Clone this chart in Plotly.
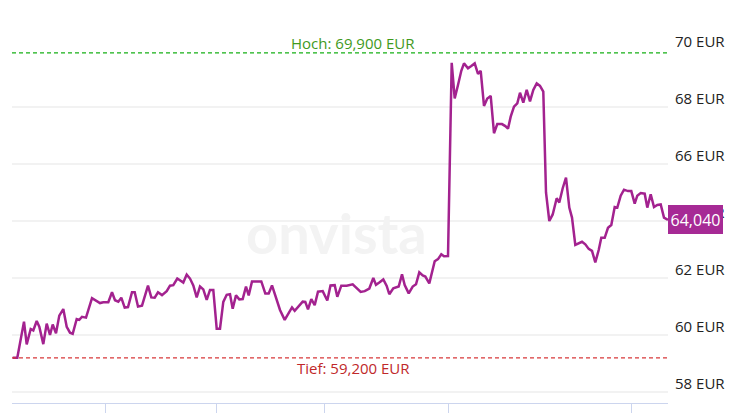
import plotly.graph_objects as go

# time position (chart units) and price in EUR
t = [12.7, 17.3, 24, 26.7, 30.7, 33.3, 36.7, 39.3, 43.3, 46.7, 50, 52.7, 56, 59.3, 63.3, 66.7, 70, 72.7,
     76.7, 79.3, 82, 86, 92, 96.7, 100, 103.3, 108.3, 112, 115, 118.3, 121.3, 124.7, 128, 132, 134.7,
     138, 142, 148, 151.3, 154.7, 158, 162, 166.7, 170, 173.3, 177.3, 180.7, 183.3, 186.7, 190, 193.3,
     196.7, 200, 203.3, 206.7, 210, 213.3, 216.7, 220, 223.3, 226.7, 230, 232.7, 236, 239.3, 242.7, 246,
     248.7, 252, 256.7, 261.3, 265.3, 268.7, 272, 276, 280, 284.7, 288.7, 292, 294.7, 298.7, 302.7, 305.3,
     308, 311.3, 314.7, 318, 322.7, 327.3, 330.5, 334.7, 337.3, 341.3, 346.7, 352.7, 356.7, 360.7, 364.7,
     369.3, 373.3, 376, 379.3, 383.3, 386.7, 389.3, 393.3, 398.7, 402, 404.7, 408.7, 412.7, 416, 419.3,
     422.7, 425.3, 429.3, 434.7, 438, 441.3, 444, 448, 451.7, 454.7, 458, 461.3, 464, 468, 471.3, 474.7,
     478, 480.7, 484, 487.3, 490.7, 494, 497.3, 502, 505.3, 508, 510.7, 514, 517.3, 520, 523.3, 526.7,
     530, 533.3, 536.7, 540, 543.3, 546, 549.3, 552.7, 556.7, 559.3, 562.7, 566, 569.3, 572, 575.3, 578.7,
     582, 585.3, 588.7, 592, 595.3, 598.7, 601.3, 604.7, 608, 611.3, 614.7, 617.3, 620.7, 624, 628, 631.3,
     634.7, 637.3, 640.7, 644.7, 647.3, 650.7, 654, 657.3, 660.7, 664, 668]
price = [59.2, 59.2, 60.47, 59.67, 60.21, 60.16, 60.49, 60.29, 59.68, 60.40, 60.0, 60.37, 60.06, 60.68,
         60.91, 60.29, 60.08, 60.04, 60.56, 60.53, 60.64, 60.61, 61.29, 61.19, 61.12, 61.15, 61.15, 61.50,
         61.22, 61.17, 61.31, 60.96, 60.98, 61.50, 61.50, 61.0, 61.03, 61.73, 61.32, 61.31, 61.50, 61.40,
         61.54, 61.73, 61.75, 61.98, 61.91, 61.84, 62.12, 61.98, 61.74, 61.32, 61.70, 61.60, 61.23, 61.58,
         61.58, 60.22, 60.22, 61.16, 61.41, 61.43, 60.92, 61.39, 61.25, 61.26, 61.70, 61.39, 61.88, 61.89,
         61.88, 61.46, 61.46, 61.74, 61.34, 60.88, 60.53, 60.80, 60.97, 60.85, 61.02, 61.17, 61.16, 60.90,
         61.26, 61.05, 61.52, 61.54, 61.21, 61.74, 61.75, 61.34, 61.73, 61.73, 61.78, 61.64, 61.51, 61.54,
         61.63, 62.0, 61.76, 61.84, 61.95, 61.72, 61.43, 61.64, 61.70, 62.13, 61.75, 61.46, 61.70, 61.78,
         62.20, 62.09, 62.05, 61.81, 62.59, 62.66, 62.83, 62.76, 62.77, 69.55, 68.30, 68.77, 69.27, 69.53,
         69.36, 69.44, 69.53, 69.16, 69.27, 68.04, 68.30, 68.39, 67.08, 67.40, 67.40, 67.33, 67.24, 67.66,
         68.01, 68.13, 68.50, 68.15, 68.60, 68.20, 68.60, 68.83, 68.74, 68.54, 65.0, 64.0, 64.23, 64.80,
         64.65, 65.15, 65.52, 64.47, 64.12, 63.16, 63.23, 63.27, 63.18, 63.02, 62.95, 62.55, 62.98, 63.41,
         63.41, 63.76, 63.86, 64.49, 64.47, 64.89, 65.10, 65.05, 65.05, 64.61, 64.89, 64.98, 64.96, 64.47,
         64.94, 64.49, 64.56, 64.58, 64.12, 64.04]

y_ticks = [58, 60, 62, 64, 66, 68, 70]
y_tick_labels = ["58 EUR", "60 EUR", "62 EUR", "64 EUR", "66 EUR", "68 EUR", "70 EUR"]
x_ticks = [105, 216, 324, 448, 631]
high_value = 69.9
low_value = 59.2
high_label = "Hoch: 69,900 EUR"
low_label = "Tief: 59,200 EUR"
last_label = "64,040"

LINE = "#a3228f"
FONT = "Open Sans"

fig = go.Figure()
fig.add_trace(go.Scatter(x=t, y=price, mode="lines",
                         line=dict(color=LINE, width=2.5), hoverinfo="skip"))

shapes = []
for v in y_ticks[:-1]:
    shapes.append(dict(type="line", xref="paper", yref="y", x0=0, x1=1, y0=v, y1=v,
                       line=dict(color="#e5e5e5", width=1), layer="below"))
shapes.append(dict(type="line", xref="paper", yref="y", x0=0, x1=1, y0=high_value, y1=high_value,
                   line=dict(color="#16b016", width=1.3, dash="4px,3px")))
shapes.append(dict(type="line", xref="paper", yref="y", x0=0, x1=1, y0=low_value, y1=low_value,
                   line=dict(color="#d8383a", width=1.3, dash="4px,3px")))

annotations = [
    dict(text="onvista", x=336, y=63.6, xref="x", yref="y", showarrow=False,
         font=dict(family="Lato", size=56, color="#f3f3f3", weight="bold")),
    dict(text=high_label, x=353, y=high_value, xref="x", yref="y", showarrow=False,
         yanchor="bottom", yshift=-2, font=dict(family=FONT, size=15, color="#3f9a1c")),
    dict(text=low_label, x=353, y=low_value, xref="x", yref="y", showarrow=False,
         yanchor="top", yshift=2, font=dict(family=FONT, size=15, color="#c0282a")),
    dict(text=last_label, x=1, y=price[-1], xref="paper", yref="y", xanchor="left", showarrow=False,
         bgcolor="#a62a95", bordercolor="#a62a95", borderwidth=1, borderpad=1, width=51, height=25,
         font=dict(family=FONT, size=16, color="white")),
]

fig.update_layout(
    width=739, height=413,
    margin=dict(l=12, r=71, t=20, b=10, autoexpand=False),
    paper_bgcolor="white", plot_bgcolor="white",
    showlegend=False,
    shapes=shapes,
    annotations=annotations,
    xaxis=dict(range=[12, 668], showgrid=False, zeroline=False, showline=True, automargin=False,
               linecolor="#ccd5ee", linewidth=1, ticks="outside", ticklen=12,
               tickcolor="#ccd5ee", tickvals=x_ticks, showticklabels=False),
    yaxis=dict(range=[57.614, 71.053], side="right", showgrid=False, zeroline=False, automargin=False,
               tickvals=y_ticks, ticktext=y_tick_labels, ticks="",
               ticklabelstandoff=6, ticklabelshift=-8,
               tickfont=dict(family=FONT, size=15, color="#222222")),
)

fig.write_html("out.html", config={"displayModeBar": False},
               post_script="document.body.style.margin='0';document.body.style.overflow='hidden';")
